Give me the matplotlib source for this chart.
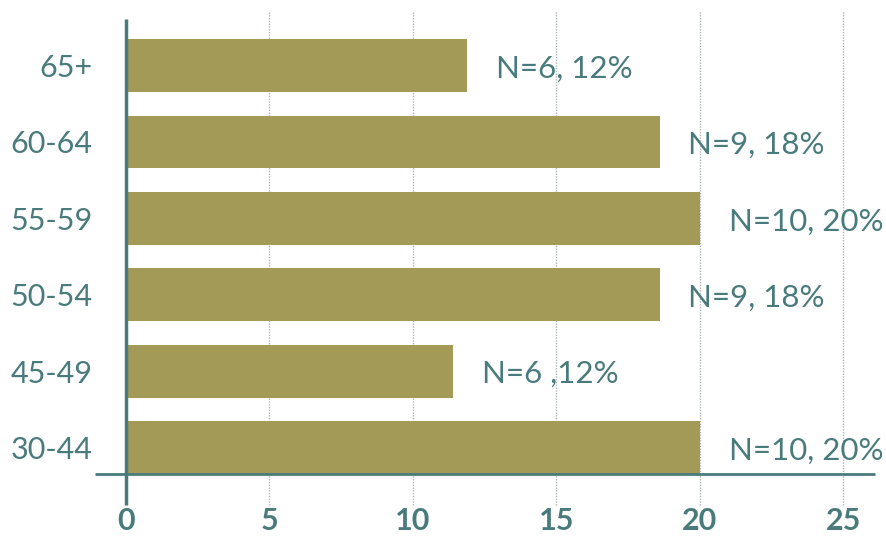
import matplotlib
matplotlib.use("Agg")
import matplotlib.pyplot as plt

# Age groups, bottom to top as drawn
age_groups = ["30-44", "45-49", "50-54", "55-59", "60-64", "65+"]
bar_values = [20.0, 11.4, 18.6, 20.0, 18.6, 11.9]
bar_labels = ["N=10, 20%", "N=6 ,12%", "N=9, 18%", "N=10, 20%", "N=9, 18%", "N=6, 12%"]
x_ticks = [0, 5, 10, 15, 20, 25]
x_tick_labels = ["0", "5", "10", "15", "20", "25"]

bar_color = "#A39A57"
teal = "#4A7B7C"
grid_color = "#A9B6B8"

plt.rcParams["font.family"] = ["Lato", "DejaVu Sans"]

W, H = 887, 538
fig = plt.figure(figsize=(W / 100, H / 100), dpi=100)
# axes box in pixels: left 126, right 875, bottom 474, top 12
ax = fig.add_axes([126 / W, (H - 474) / H, (875 - 126) / W, (474 - 12) / H])

bar_h = 0.69
y_pos = list(range(len(age_groups)))
ax.barh(y_pos, bar_values, height=bar_h, color=bar_color, zorder=2)

ax.set_xlim(0, 26.1)
ax.set_ylim(-bar_h / 2, 5.70)
y_bottom = -bar_h / 2

# dotted gridlines that run below the axis line
ax.vlines(x_ticks[1:], y_bottom - 0.41, 5.70, colors=grid_color, linestyles=(0, (1, 1)),
          linewidth=1, zorder=1, clip_on=False)
# y axis line
ax.vlines(0, y_bottom - 0.41, 5.61, colors=teal, linewidth=2.5, zorder=3, clip_on=False)
# x axis line
ax.hlines(y_bottom, -1.08, 26.1, colors=teal, linewidth=2, zorder=3, clip_on=False)

for s in ax.spines.values():
    s.set_visible(False)

ax.set_yticks(y_pos)
ax.set_yticklabels(age_groups, fontsize=22, color=teal)
ax.set_xticks(x_ticks)
ax.set_xticklabels(x_tick_labels, fontsize=22, color=teal, fontweight="bold")
ax.tick_params(axis="y", length=0, pad=24)
ax.tick_params(axis="x", length=0, pad=24)

for i, (v, lab) in enumerate(zip(bar_values, bar_labels)):
    ax.text(v + 1.0, i - 0.04, lab, va="center", ha="left", fontsize=22.5,
            color=teal, zorder=4)

fig.savefig("out.png", dpi=100)
